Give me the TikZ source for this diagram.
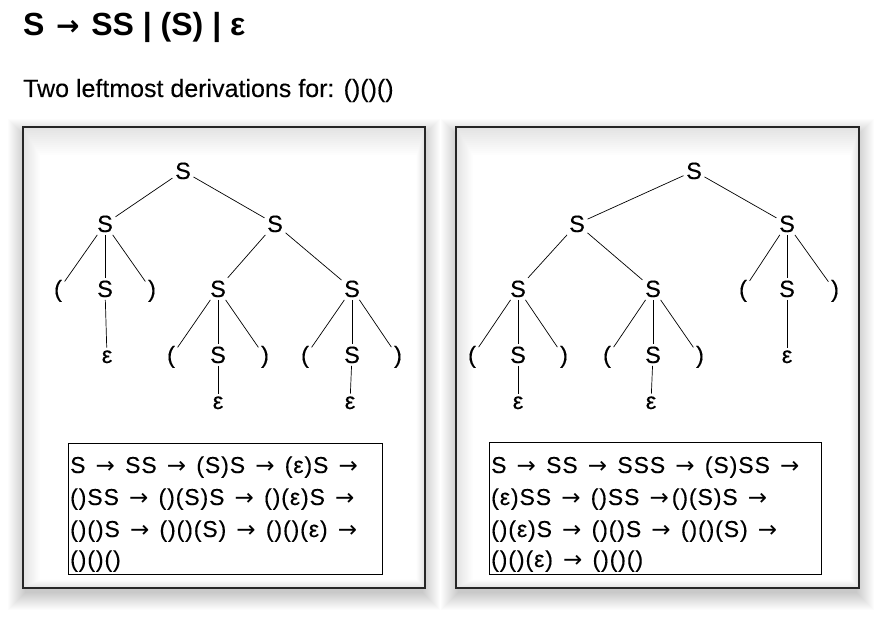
\documentclass[tikz,border=0pt]{standalone}
\usepackage{fontspec}
\setmainfont{Liberation Sans}
\newfontfamily\derivfont[LetterSpace=4,FakeBold=0.25]{Liberation Sans}
\newfontfamily\symfont[FakeBold=0.3]{Liberation Sans}
\newfontfamily\subfont[FakeBold=0.2]{Liberation Sans}
\newfontfamily\arrowfont{DejaVu Sans}
\newcommand\ar{\makebox[25pt]{\arrowfont →}}
\newcommand\tar{\makebox[29pt]{\arrowfont\fontsize{28}{30}\selectfont →}}
\begin{document}
\begin{tikzpicture}[x=1pt,y=-1pt,
  sym/.style={font=\symfont\fontsize{23.5}{27}\selectfont, inner sep=2.5pt, anchor=base},
  edge/.style={line width=0.7pt, black},
  panel/.style={draw=black!85, line width=1.6pt},
  dbox/.style={draw=black, line width=0.8pt, inner sep=0pt, anchor=north west},
  dline/.style={font=\derivfont\fontsize{23}{27}\selectfont, inner sep=0pt, anchor=base west},
  ttl/.style={font=\bfseries\fontsize{32}{36}\selectfont, inner sep=0pt, anchor=base west},
  sub/.style={font=\subfont\fontsize{25}{29}\selectfont, inner sep=0pt, anchor=base west}]
\useasboundingbox (0,0) rectangle (881,620);
\fill[white] (0,0) rectangle (881,620);

% titles
\node[ttl] (title) at (23,36) {S \tar{} SS | (S) | ε};
\node[sub] (subtitle) at (23,97) {Two leftmost derivations for: ()()()};

% panels with shadows
\foreach \xa/\xb in {23/425, 456/859}{
  \foreach \k in {1,...,18}{
    \fill[black, opacity=0.011] ({\xa-\k+3},{127-\k+10}) rectangle ({\xb+\k-3},{588+\k+4});
  }
  \fill[white] (\xa,127) rectangle (\xb,588);
  \foreach \k in {1,...,14}{
    \fill[black, opacity=0.009, even odd rule] (\xa,127) rectangle (\xb,588)
      ({\xa+1.2*\k},{127+2*\k}) rectangle ({\xb-0.6*\k},{588-0.6*\k});
  }
  \draw[panel] (\xa,127) rectangle (\xb,588);
}

% ---------- left tree ----------
\node[sym] (L) at (183,179) {S};
\node[sym] (La) at (105,232) {S};
\node[sym] (Lb) at (275,232) {S};
\node[sym] (La1) at (58,297) {(};
\node[sym] (La2) at (105,297) {S};
\node[sym] (La3) at (152,297) {)};
\node[sym] (La2e) at (107,363) {ε};
\node[sym] (Lc) at (218,297) {S};
\node[sym] (Ld) at (352,297) {S};
\node[sym] (Lc1) at (171,363) {(};
\node[sym] (Lc2) at (218,363) {S};
\node[sym] (Lc3) at (265,363) {)};
\node[sym] (Lc2e) at (218,409) {ε};
\node[sym] (Ld1) at (305,363) {(};
\node[sym] (Ld2) at (352,363) {S};
\node[sym] (Ld3) at (398,363) {)};
\node[sym] (Ld2e) at (350,409) {ε};
\draw[edge] (L) -- (La);
\draw[edge] (L) -- (Lb);
\draw[edge] (La) -- (La1);
\draw[edge] (La) -- (La2);
\draw[edge] (La) -- (La3);
\draw[edge] (La2) -- (La2e);
\draw[edge] (Lb) -- (Lc);
\draw[edge] (Lb) -- (Ld);
\draw[edge] (Lc) -- (Lc1);
\draw[edge] (Lc) -- (Lc2);
\draw[edge] (Lc) -- (Lc3);
\draw[edge] (Lc2) -- (Lc2e);
\draw[edge] (Ld) -- (Ld1);
\draw[edge] (Ld) -- (Ld2);
\draw[edge] (Ld) -- (Ld3);
\draw[edge] (Ld2) -- (Ld2e);

% ---------- right tree ----------
\node[sym] (R) at (694,179) {S};
\node[sym] (Ra) at (577,232) {S};
\node[sym] (Rb) at (787,232) {S};
\node[sym] (Rc) at (518,297) {S};
\node[sym] (Rd) at (653,297) {S};
\node[sym] (Rb1) at (743,297) {(};
\node[sym] (Rb2) at (787,297) {S};
\node[sym] (Rb3) at (835,297) {)};
\node[sym] (Rb2e) at (787,363) {ε};
\node[sym] (Rc1) at (472,363) {(};
\node[sym] (Rc2) at (518,363) {S};
\node[sym] (Rc3) at (564,363) {)};
\node[sym] (Rc2e) at (518,409) {ε};
\node[sym] (Rd1) at (607,363) {(};
\node[sym] (Rd2) at (653,363) {S};
\node[sym] (Rd3) at (700,363) {)};
\node[sym] (Rd2e) at (651,409) {ε};
\draw[edge] (R) -- (Ra);
\draw[edge] (R) -- (Rb);
\draw[edge] (Ra) -- (Rc);
\draw[edge] (Ra) -- (Rd);
\draw[edge] (Rb) -- (Rb1);
\draw[edge] (Rb) -- (Rb2);
\draw[edge] (Rb) -- (Rb3);
\draw[edge] (Rb2) -- (Rb2e);
\draw[edge] (Rc) -- (Rc1);
\draw[edge] (Rc) -- (Rc2);
\draw[edge] (Rc) -- (Rc3);
\draw[edge] (Rc2) -- (Rc2e);
\draw[edge] (Rd) -- (Rd1);
\draw[edge] (Rd) -- (Rd2);
\draw[edge] (Rd) -- (Rd3);
\draw[edge] (Rd2) -- (Rd2e);

% ---------- derivation boxes ----------
\node[dbox, minimum width=314pt, minimum height=131pt] (LD) at (68,443) {};
\node[dline] (LD1) at (70,473) {S \ar{} SS \ar{} (S)S \ar{} (ε)S \ar};
\node[dline] (LD2) at (70,505) {()SS \ar{} ()(S)S \ar{} ()(ε)S \ar};
\node[dline] (LD3) at (70,537) {()()S \ar{} ()()(S) \ar{} ()()(ε) \ar};
\node[dline] (LD4) at (70,567) {()()()};

\node[dbox, minimum width=332pt, minimum height=132pt] (RD) at (489,442) {};
\node[dline] (RD1) at (491,473) {S \ar{} SS \ar{} SSS \ar{} (S)SS \ar};
\node[dline] (RD2) at (491,505) {(ε)SS \ar{} ()SS \ar()(S)S \ar};
\node[dline] (RD3) at (491,537) {()(ε)S \ar{} ()()S \ar{} ()()(S) \ar};
\node[dline] (RD4) at (491,567) {()()(ε) \ar{} ()()()};
\end{tikzpicture}
\end{document}
